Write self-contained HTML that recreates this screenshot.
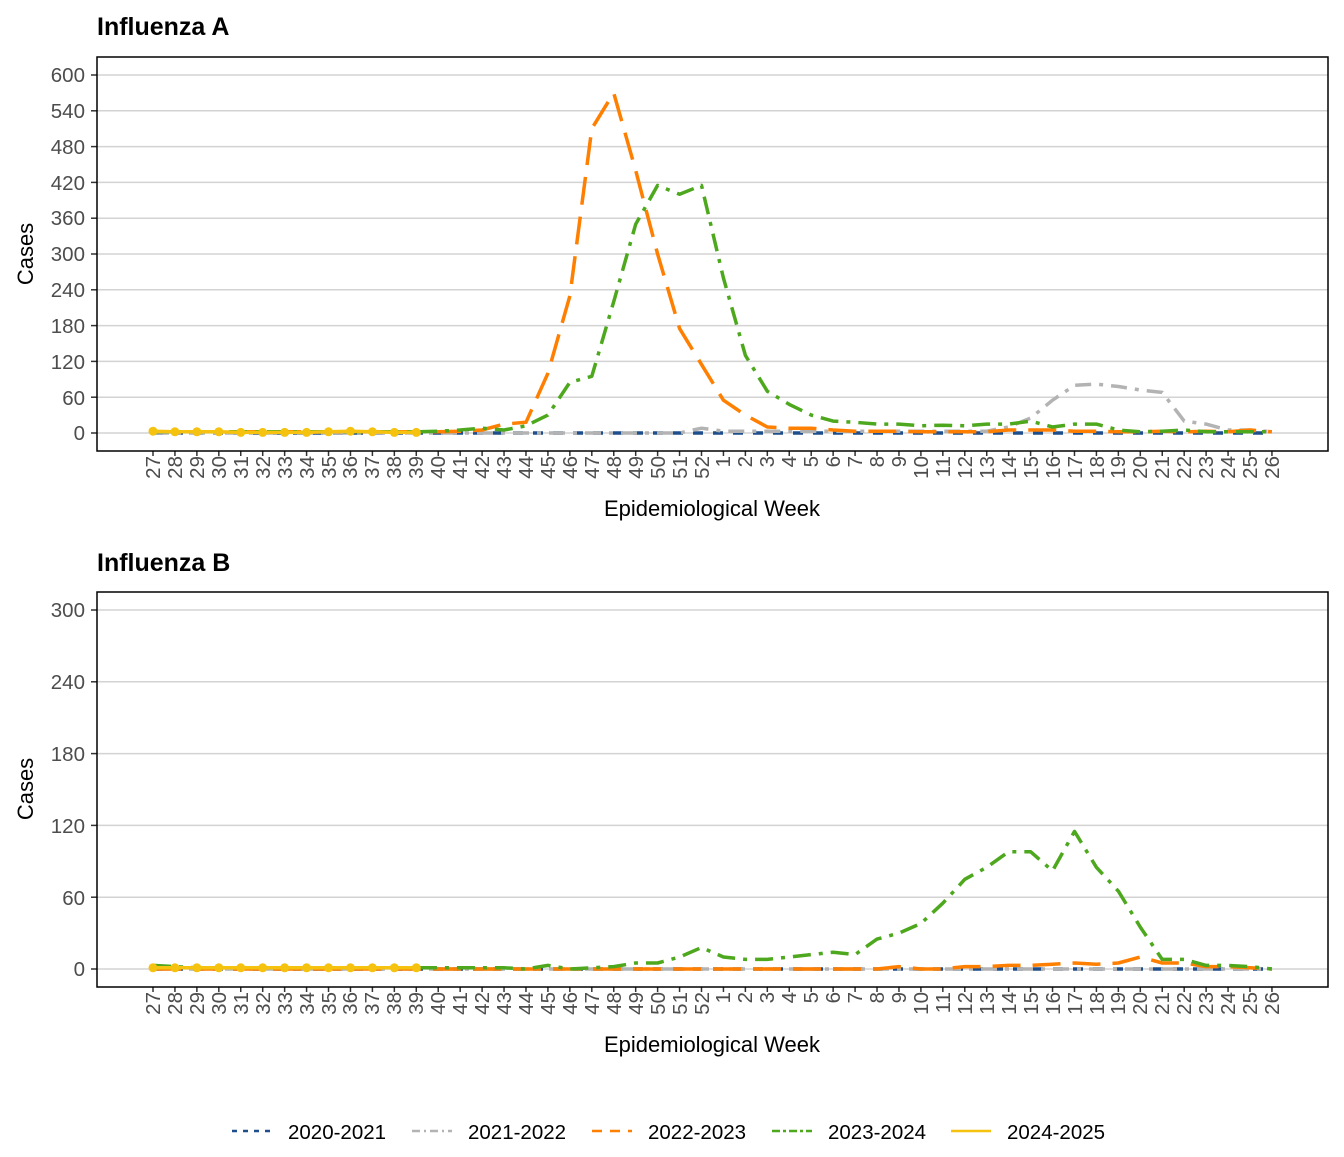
<!DOCTYPE html>
<html><head><meta charset="utf-8"><style>
body{margin:0;background:#fff}
svg text{font-family:"Liberation Sans",Arial,sans-serif}
.t{font-size:20.5px;fill:#4d4d4d}
.xl{font-size:20.5px;fill:#4d4d4d;text-anchor:end}
.ti{font-size:25px;font-weight:bold;fill:#000}
.ax{font-size:22px;fill:#000}
.g{stroke:#d3d3d3;stroke-width:1.5}
</style></head><body>
<svg id="s" width="1344" height="1152" xmlns="http://www.w3.org/2000/svg">
<rect width="1344" height="1152" fill="#fff"/>
<g id="grid"></g>
<text class="ti" x="97" y="35">Influenza A</text>
<text class="ti" x="97" y="571">Influenza B</text>
<rect x="97" y="57" width="1231" height="394" fill="none" stroke="#000" stroke-width="1.5"/>
<rect x="97" y="592" width="1231" height="395" fill="none" stroke="#000" stroke-width="1.5"/>
<g class="t" text-anchor="end">
<text x="85" y="82">600</text><text x="85" y="118">540</text><text x="85" y="154">480</text><text x="85" y="190">420</text><text x="85" y="225">360</text><text x="85" y="261">300</text><text x="85" y="297">240</text><text x="85" y="333">180</text><text x="85" y="369">120</text><text x="85" y="405">60</text><text x="85" y="440">0</text>
<text x="85" y="617">300</text><text x="85" y="689">240</text><text x="85" y="761">180</text><text x="85" y="833">120</text><text x="85" y="905">60</text><text x="85" y="976">0</text>
</g>
<text class="ax" transform="translate(33,254) rotate(-90)" text-anchor="middle">Cases</text>
<text class="ax" transform="translate(33,789) rotate(-90)" text-anchor="middle">Cases</text>
<text class="ax" x="712" y="516" text-anchor="middle">Epidemiological Week</text>
<text class="ax" x="712" y="1052" text-anchor="middle">Epidemiological Week</text>
<g id="xa"><text class="xl" transform="translate(160,456) rotate(-90)">27</text><text class="xl" transform="translate(182,456) rotate(-90)">28</text><text class="xl" transform="translate(204,456) rotate(-90)">29</text><text class="xl" transform="translate(226,456) rotate(-90)">30</text><text class="xl" transform="translate(248,456) rotate(-90)">31</text><text class="xl" transform="translate(270,456) rotate(-90)">32</text><text class="xl" transform="translate(292,456) rotate(-90)">33</text><text class="xl" transform="translate(314,456) rotate(-90)">34</text><text class="xl" transform="translate(336,456) rotate(-90)">35</text><text class="xl" transform="translate(357,456) rotate(-90)">36</text><text class="xl" transform="translate(379,456) rotate(-90)">37</text><text class="xl" transform="translate(401,456) rotate(-90)">38</text><text class="xl" transform="translate(423,456) rotate(-90)">39</text><text class="xl" transform="translate(445,456) rotate(-90)">40</text><text class="xl" transform="translate(467,456) rotate(-90)">41</text><text class="xl" transform="translate(489,456) rotate(-90)">42</text><text class="xl" transform="translate(511,456) rotate(-90)">43</text><text class="xl" transform="translate(533,456) rotate(-90)">44</text><text class="xl" transform="translate(555,456) rotate(-90)">45</text><text class="xl" transform="translate(577,456) rotate(-90)">46</text><text class="xl" transform="translate(599,456) rotate(-90)">47</text><text class="xl" transform="translate(621,456) rotate(-90)">48</text><text class="xl" transform="translate(643,456) rotate(-90)">49</text><text class="xl" transform="translate(665,456) rotate(-90)">50</text><text class="xl" transform="translate(687,456) rotate(-90)">51</text><text class="xl" transform="translate(709,456) rotate(-90)">52</text><text class="xl" transform="translate(730,456) rotate(-90)">1</text><text class="xl" transform="translate(752,456) rotate(-90)">2</text><text class="xl" transform="translate(774,456) rotate(-90)">3</text><text class="xl" transform="translate(796,456) rotate(-90)">4</text><text class="xl" transform="translate(818,456) rotate(-90)">5</text><text class="xl" transform="translate(840,456) rotate(-90)">6</text><text class="xl" transform="translate(862,456) rotate(-90)">7</text><text class="xl" transform="translate(884,456) rotate(-90)">8</text><text class="xl" transform="translate(906,456) rotate(-90)">9</text><text class="xl" transform="translate(928,456) rotate(-90)">10</text><text class="xl" transform="translate(950,456) rotate(-90)">11</text><text class="xl" transform="translate(972,456) rotate(-90)">12</text><text class="xl" transform="translate(994,456) rotate(-90)">13</text><text class="xl" transform="translate(1016,456) rotate(-90)">14</text><text class="xl" transform="translate(1038,456) rotate(-90)">15</text><text class="xl" transform="translate(1060,456) rotate(-90)">16</text><text class="xl" transform="translate(1082,456) rotate(-90)">17</text><text class="xl" transform="translate(1104,456) rotate(-90)">18</text><text class="xl" transform="translate(1125,456) rotate(-90)">19</text><text class="xl" transform="translate(1147,456) rotate(-90)">20</text><text class="xl" transform="translate(1169,456) rotate(-90)">21</text><text class="xl" transform="translate(1191,456) rotate(-90)">22</text><text class="xl" transform="translate(1213,456) rotate(-90)">23</text><text class="xl" transform="translate(1235,456) rotate(-90)">24</text><text class="xl" transform="translate(1257,456) rotate(-90)">25</text><text class="xl" transform="translate(1279,456) rotate(-90)">26</text></g>
<g transform="translate(0,536)"><text class="xl" transform="translate(160,456) rotate(-90)">27</text><text class="xl" transform="translate(182,456) rotate(-90)">28</text><text class="xl" transform="translate(204,456) rotate(-90)">29</text><text class="xl" transform="translate(226,456) rotate(-90)">30</text><text class="xl" transform="translate(248,456) rotate(-90)">31</text><text class="xl" transform="translate(270,456) rotate(-90)">32</text><text class="xl" transform="translate(292,456) rotate(-90)">33</text><text class="xl" transform="translate(314,456) rotate(-90)">34</text><text class="xl" transform="translate(336,456) rotate(-90)">35</text><text class="xl" transform="translate(357,456) rotate(-90)">36</text><text class="xl" transform="translate(379,456) rotate(-90)">37</text><text class="xl" transform="translate(401,456) rotate(-90)">38</text><text class="xl" transform="translate(423,456) rotate(-90)">39</text><text class="xl" transform="translate(445,456) rotate(-90)">40</text><text class="xl" transform="translate(467,456) rotate(-90)">41</text><text class="xl" transform="translate(489,456) rotate(-90)">42</text><text class="xl" transform="translate(511,456) rotate(-90)">43</text><text class="xl" transform="translate(533,456) rotate(-90)">44</text><text class="xl" transform="translate(555,456) rotate(-90)">45</text><text class="xl" transform="translate(577,456) rotate(-90)">46</text><text class="xl" transform="translate(599,456) rotate(-90)">47</text><text class="xl" transform="translate(621,456) rotate(-90)">48</text><text class="xl" transform="translate(643,456) rotate(-90)">49</text><text class="xl" transform="translate(665,456) rotate(-90)">50</text><text class="xl" transform="translate(687,456) rotate(-90)">51</text><text class="xl" transform="translate(709,456) rotate(-90)">52</text><text class="xl" transform="translate(730,456) rotate(-90)">1</text><text class="xl" transform="translate(752,456) rotate(-90)">2</text><text class="xl" transform="translate(774,456) rotate(-90)">3</text><text class="xl" transform="translate(796,456) rotate(-90)">4</text><text class="xl" transform="translate(818,456) rotate(-90)">5</text><text class="xl" transform="translate(840,456) rotate(-90)">6</text><text class="xl" transform="translate(862,456) rotate(-90)">7</text><text class="xl" transform="translate(884,456) rotate(-90)">8</text><text class="xl" transform="translate(906,456) rotate(-90)">9</text><text class="xl" transform="translate(928,456) rotate(-90)">10</text><text class="xl" transform="translate(950,456) rotate(-90)">11</text><text class="xl" transform="translate(972,456) rotate(-90)">12</text><text class="xl" transform="translate(994,456) rotate(-90)">13</text><text class="xl" transform="translate(1016,456) rotate(-90)">14</text><text class="xl" transform="translate(1038,456) rotate(-90)">15</text><text class="xl" transform="translate(1060,456) rotate(-90)">16</text><text class="xl" transform="translate(1082,456) rotate(-90)">17</text><text class="xl" transform="translate(1104,456) rotate(-90)">18</text><text class="xl" transform="translate(1125,456) rotate(-90)">19</text><text class="xl" transform="translate(1147,456) rotate(-90)">20</text><text class="xl" transform="translate(1169,456) rotate(-90)">21</text><text class="xl" transform="translate(1191,456) rotate(-90)">22</text><text class="xl" transform="translate(1213,456) rotate(-90)">23</text><text class="xl" transform="translate(1235,456) rotate(-90)">24</text><text class="xl" transform="translate(1257,456) rotate(-90)">25</text><text class="xl" transform="translate(1279,456) rotate(-90)">26</text></g>
<g id="series"></g>
<g font-size="20.5" fill="#000">
<line x1="232" y1="1131" x2="272" y2="1131" stroke="#1f4e8c" stroke-width="2.5" stroke-dasharray="5,6"/>
<text x="288" y="1139">2020-2021</text>
<line x1="412" y1="1131" x2="452" y2="1131" stroke="#b3b3b3" stroke-width="2.5" stroke-dasharray="8,4,2,4"/>
<text x="468" y="1139">2021-2022</text>
<line x1="592" y1="1131" x2="632" y2="1131" stroke="#ff7f00" stroke-width="2.5" stroke-dasharray="10,8"/>
<text x="648" y="1139">2022-2023</text>
<line x1="772" y1="1131" x2="812" y2="1131" stroke="#4da81e" stroke-width="2.5" stroke-dasharray="8,3,3,3"/>
<text x="828" y="1139">2023-2024</text>
<line x1="951" y1="1131" x2="991" y2="1131" stroke="#f5c20f" stroke-width="2.5"/>
<text x="1007" y="1139">2024-2025</text>
</g>
</svg>
<script>
const NS="http://www.w3.org/2000/svg";
const X=i=>153+i*21.94;
const A0=433,AS=35.8/60,B0=969,BS=71.8/60;
function el(p,t,a){const e=document.createElementNS(NS,t);for(const k in a)e.setAttribute(k,a[k]);p.appendChild(e);return e;}
const grid=document.getElementById('grid');
for(let v=0;v<=600;v+=60){const y=A0-v*AS;el(grid,'line',{x1:97,x2:1328,y1:y,y2:y,class:'g'});el(grid,'line',{x1:91,x2:97,y1:y,y2:y,stroke:'#333','stroke-width':1.5});}
for(let v=0;v<=300;v+=60){const y=B0-v*BS;el(grid,'line',{x1:97,x2:1328,y1:y,y2:y,class:'g'});el(grid,'line',{x1:91,x2:97,y1:y,y2:y,stroke:'#333','stroke-width':1.5});}
for(let i=0;i<52;i++){el(grid,'line',{x1:X(i),x2:X(i),y1:451,y2:456,stroke:'#333','stroke-width':1.5});el(grid,'line',{x1:X(i),x2:X(i),y1:987,y2:992,stroke:'#333','stroke-width':1.5});}
const S=document.getElementById('series');
const st={b:['#1f4e8c','10,10'],g:['#b3b3b3','16,8,4,8'],o:['#ff7f00','28,12'],gr:['#4da81e','18,8,4,8'],y:['#f5c20f','none']};
function line(d,base,sc,k){let s='';d.forEach((v,i)=>{s+=(i?'L':'M')+X(i).toFixed(1)+','+(base-v*sc).toFixed(1);});el(S,'path',{d:s,fill:'none',stroke:st[k][0],'stroke-width':3.5,'stroke-dasharray':st[k][1],'stroke-linejoin':'round'});}
const z=n=>Array(n).fill(0);
// Panel A
line(z(52),A0,AS,'b');
line([...z(25),8,3,3,3,3,3,3,3,3,3,3,3,3,3,10,25,55,80,82,78,72,68,20,15,5,5,2],A0,AS,'g');
line([2,2,2,2,2,2,2,2,2,2,2,2,2,2,3,5,15,18,100,230,510,570,440,300,175,115,55,30,10,8,8,5,3,3,3,2,2,2,2,5,5,5,3,3,2,2,3,2,3,2,5,2],A0,AS,'o');
line([2,2,2,2,2,2,2,2,2,2,2,2,2,3,5,8,5,12,30,85,95,220,350,415,400,415,260,130,70,48,30,20,18,15,15,12,13,12,15,15,20,10,15,15,5,2,3,5,2,2,2,2],A0,AS,'gr');
const ya=[3,2,2,2,1,1,1,1,2,3,2,1,1];line(ya,A0,AS,'y');
ya.forEach((v,i)=>el(S,'circle',{cx:X(i),cy:A0-v*AS,r:4.5,fill:'#f5c20f'}));
// Panel B
line(z(52),B0,BS,'b');
line(z(52),B0,BS,'g');
line([...z(34),2,0,0,2,2,3,3,4,5,4,5,10,5,5,2,2,1,0],B0,BS,'o');
line([3,2,1,1,1,1,1,1,1,1,1,1,1,1,1,1,1,0,3,0,1,2,5,5,10,18,10,8,8,10,12,14,12,25,30,38,55,75,85,98,98,82,115,85,65,35,8,8,3,3,2,0],B0,BS,'gr');
const yb=[1,1,1,1,1,1,1,1,1,1,1,1,1];line(yb,B0,BS,'y');
yb.forEach((v,i)=>el(S,'circle',{cx:X(i),cy:B0-v*BS,r:4.5,fill:'#f5c20f'}));
</script>
</body></html>
